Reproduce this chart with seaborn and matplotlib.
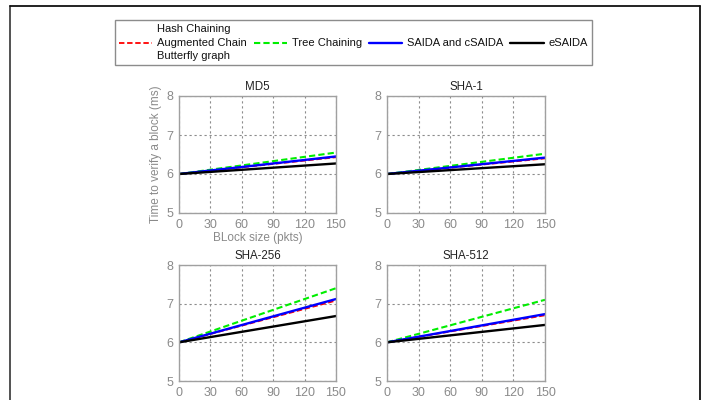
import numpy as np
import pandas as pd
import matplotlib
matplotlib.use("Agg")
import matplotlib.pyplot as plt
import seaborn as sns
from matplotlib.lines import Line2D

sns.set_theme(style="white")
plt.rcParams['font.family'] = ['Liberation Sans', 'DejaVu Sans']

block_sizes = [0, 30, 60, 90, 120, 150]
panels = ["MD5", "SHA-1", "SHA-256", "SHA-512"]
series = ["Hash Chaining\nAugmented Chain\nButterfly graph", "Tree Chaining",
          "SAIDA and cSAIDA", "eSAIDA"]

hash_chain = {
    "MD5":     [6.0, 6.086, 6.172, 6.258, 6.344, 6.43],
    "SHA-1":   [6.0, 6.08, 6.16, 6.24, 6.32, 6.40],
    "SHA-256": [6.0, 6.216, 6.432, 6.648, 6.864, 7.08],
    "SHA-512": [6.0, 6.14, 6.28, 6.42, 6.56, 6.70],
}
tree_chain = {
    "MD5":     [6.0, 6.11, 6.22, 6.33, 6.44, 6.55],
    "SHA-1":   [6.0, 6.104, 6.208, 6.312, 6.416, 6.52],
    "SHA-256": [6.0, 6.28, 6.56, 6.84, 7.12, 7.40],
    "SHA-512": [6.0, 6.22, 6.44, 6.66, 6.88, 7.10],
}
saida = {
    "MD5":     [6.0, 6.09, 6.18, 6.27, 6.36, 6.45],
    "SHA-1":   [6.0, 6.084, 6.168, 6.252, 6.336, 6.42],
    "SHA-256": [6.0, 6.224, 6.448, 6.672, 6.896, 7.12],
    "SHA-512": [6.0, 6.146, 6.292, 6.438, 6.584, 6.73],
}
esaida = {
    "MD5":     [6.0, 6.054, 6.108, 6.162, 6.216, 6.27],
    "SHA-1":   [6.0, 6.05, 6.10, 6.15, 6.20, 6.25],
    "SHA-256": [6.0, 6.136, 6.272, 6.408, 6.544, 6.68],
    "SHA-512": [6.0, 6.09, 6.18, 6.27, 6.36, 6.45],
}

colors = ["#ff0000", "#00ee00", "#0000ff", "#000000"]
styles = [(0, (3, 1.5)), (0, (3, 1.5)), "-", "-"]
widths = [1.3, 1.5, 1.7, 1.7]
data_sets = [hash_chain, tree_chain, saida, esaida]

W, H = 717, 400
fig = plt.figure(figsize=(W / 100, H / 100), dpi=100)

def ax_rect(l, t, r, b):
    return [l / W, 1 - b / H, (r - l) / W, (b - t) / H]

rects = {
    "MD5": ax_rect(179, 96, 336, 213),
    "SHA-1": ax_rect(387, 96, 545, 213),
    "SHA-256": ax_rect(179, 265, 336, 381),
    "SHA-512": ax_rect(387, 265, 545, 381),
}

tick_col = "#8a8a8a"
for p in panels:
    ax = fig.add_axes(rects[p])
    for name, ds, c, ls, lw in zip(series, data_sets, colors, styles, widths):
        df = pd.DataFrame({"x": block_sizes, "y": ds[p]})
        sns.lineplot(data=df, x="x", y="y", ax=ax, color=c, linestyle=ls,
                     linewidth=lw, legend=False)
    ax.set_xlim(0, 150)
    ax.set_ylim(5, 8)
    ax.set_xticks(block_sizes)
    ax.set_yticks([5, 6, 7, 8])
    ax.grid(True, color="#8c8c8c", linestyle=(0, (2, 2.5)), linewidth=0.8)
    for s in ax.spines.values():
        s.set_color("#a0a0a0")
        s.set_linewidth(1.0)
    ax.tick_params(axis="both", labelsize=9, colors=tick_col, length=0)
    ax.tick_params(axis="x", pad=4)
    ax.tick_params(axis="y", pad=4)
    ax.set_title(p, fontsize=8.3, color="#222222", pad=4)
    if p == "MD5":
        ax.set_xlabel("BLock size (pkts)", fontsize=8.5, color=tick_col, labelpad=1)
        ax.set_ylabel("Time to verify a block (ms)", fontsize=8.5, color=tick_col, labelpad=3)
    else:
        ax.set_xlabel("")
        ax.set_ylabel("")

handles = [Line2D([], [], color=c, linestyle=ls, linewidth=lw)
           for c, ls, lw in zip(colors, styles, widths)]
leg = fig.legend(handles, series, ncol=4, loc="center",
                 bbox_to_anchor=(353.5 / W, 1 - 42.5 / H),
                 fontsize=8, frameon=True, fancybox=False,
                 handlelength=3.0, handletextpad=0.45, columnspacing=0.6,
                 borderpad=0.35, borderaxespad=0)
leg.get_frame().set_edgecolor("#707070")
leg.get_frame().set_linewidth(1.0)
for t in leg.get_texts():
    t.set_color("#111111")
    t.set_linespacing(1.45)

# outer frame (top, left, right)
fig.add_artist(Line2D([10 / W, 10 / W], [0, 1 - 6 / H], color="#444444", lw=1.3))
fig.add_artist(Line2D([700 / W, 700 / W], [0, 1 - 6 / H], color="#111111", lw=1.3))
fig.add_artist(Line2D([10 / W, 700 / W], [1 - 6 / H, 1 - 6 / H], color="#111111", lw=1.3))

fig.savefig("out.png", dpi=100)
